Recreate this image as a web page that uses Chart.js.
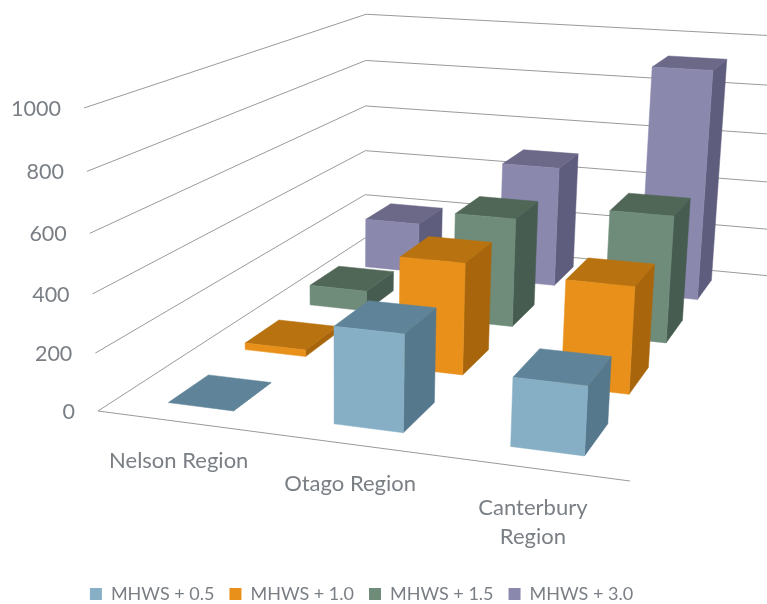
<!DOCTYPE html>
<html>
<head>
<meta charset="utf-8">
<title>Regions by MHWS level</title>
<script src="https://cdn.jsdelivr.net/npm/chart.js@4.4.0/dist/chart.umd.min.js"></script>
<style>
  html, body { margin: 0; padding: 0; background: #ffffff; }
  canvas { display: block; }
</style>
</head>
<body>
<canvas id="chart" width="767" height="604"></canvas>
<script>
const regions = ['Nelson Region', 'Otago Region', ['Canterbury', 'Region']];
const levels = ['MHWS + 0.5', 'MHWS + 1.0', 'MHWS + 1.5', 'MHWS + 3.0'];

const mhws05 = [0, 330, 229];
const mhws10 = [25, 404, 380];
const mhws15 = [80, 420, 482];
const mhws30 = [207, 490, 918];

const series = [mhws05, mhws10, mhws15, mhws30];

const frontColors = ['#86afc6', '#e8901a', '#6f8c7b', '#8b88ae'];
const topColors = ['#5f8499', '#b8720f', '#506757', '#6b6888'];
const sideColors = ['#56788d', '#a8650c', '#465c50', '#5f5d7d'];

const textColor = '#7a7f85';
const gridColor = '#9a9a9a';

// corners of the plot box on screen, the perspective is solved from these
const boxOrigin = [98, 411];
const boxRight = [630, 481];
const boxBack = [365, 238];
const boxBackRight = [760, 275];
const boxUp = [84, 108];
const upWeight = 0.945;

const depthPercentage = 0.5;

function solvePerspective() {
    const o = boxOrigin, r = boxRight, k = boxBack, q = boxBackRight, t = boxUp;
    const a1 = r[0] - q[0], b1 = k[0] - q[0], c1 = o[0] - q[0];
    const a2 = r[1] - q[1], b2 = k[1] - q[1], c2 = o[1] - q[1];
    const det = a1 * b2 - a2 * b1;
    const wr = (c1 * b2 - c2 * b1) / det;
    const wk = (a1 * c2 - a2 * c1) / det;
    const col = (p, w) => [w * p[0] - o[0], w * p[1] - o[1], w - 1];
    return { cx: col(r, wr), cy: col(t, upWeight), cz: col(k, wk) };
}

const persp = solvePerspective();

function project(u, v, d) {
    const { cx, cy, cz } = persp;
    const w = cx[2] * u + cy[2] * v + cz[2] * d + 1;
    return [
        (cx[0] * u + cy[0] * v + cz[0] * d + boxOrigin[0]) / w,
        (cx[1] * u + cy[1] * v + cz[1] * d + boxOrigin[1]) / w
    ];
}

function fillFace(ctx, color, pts) {
    ctx.fillStyle = color;
    ctx.strokeStyle = color;
    ctx.lineWidth = 0.5;
    ctx.beginPath();
    pts.forEach((p, i) => i ? ctx.lineTo(p[0], p[1]) : ctx.moveTo(p[0], p[1]));
    ctx.closePath();
    ctx.fill();
    ctx.stroke();
}

function strokeLine(ctx, pts) {
    ctx.beginPath();
    pts.forEach((p, i) => i ? ctx.lineTo(p[0], p[1]) : ctx.moveTo(p[0], p[1]));
    ctx.stroke();
}

const box3d = {
    id: 'box3d',
    // the 2d bars are laid out by the chart but painted as boxes below
    beforeDatasetDraw() {
        return false;
    },
    beforeDatasetsDraw(chart) {
        const { ctx, chartArea: area, scales } = chart;
        const normX = px => (px - area.left) / area.width;
        const normY = px => (area.bottom - px) / area.height;

        ctx.save();

        // walls
        ctx.strokeStyle = gridColor;
        ctx.lineWidth = 1;
        scales.y.ticks.forEach(tick => {
            const v = normY(scales.y.getPixelForValue(tick.value));
            strokeLine(ctx, [project(0, v, 0), project(0, v, 1), project(1.05, v, 1)]);
        });
        strokeLine(ctx, [project(0, 0, 0), project(1, 0, 0)]);

        // value labels up the front of the left wall
        ctx.fillStyle = textColor;
        ctx.font = '21.5px Lato';
        ctx.textAlign = 'right';
        ctx.textBaseline = 'middle';
        scales.y.ticks.forEach(tick => {
            const v = normY(scales.y.getPixelForValue(tick.value));
            const p = project(0, v, 0);
            ctx.fillText(String(tick.value), p[0] - 23, p[1] + 1);
        });

        // region labels under the front edge
        ctx.font = '22px Lato';
        ctx.textAlign = 'center';
        regions.forEach((label, i) => {
            const p = project(normX(scales.x.getPixelForValue(i)), 0, 0);
            [].concat(label).forEach((line, n) => {
                ctx.fillText(line, p[0] - 1, p[1] + 39.5 + n * 29);
            });
        });

        // back row first so the nearer boxes paint over it
        for (let s = series.length - 1; s >= 0; s--) {
            const meta = chart.getDatasetMeta(s);
            const mid = normX(scales.depth.getPixelForValue(s));
            const half = depthPercentage / levels.length / 2;
            const z0 = mid - half, z1 = mid + half;
            meta.data.forEach(bar => {
                const x0 = normX(bar.x - bar.width / 2);
                const x1 = normX(bar.x + bar.width / 2);
                const y0 = normY(bar.base);
                const y1 = normY(bar.y);
                fillFace(ctx, sideColors[s], [project(x1, y0, z0), project(x1, y0, z1), project(x1, y1, z1), project(x1, y1, z0)]);
                fillFace(ctx, topColors[s], [project(x0, y1, z0), project(x1, y1, z0), project(x1, y1, z1), project(x0, y1, z1)]);
                if (y1 > y0) {
                    fillFace(ctx, frontColors[s], [project(x0, y0, z0), project(x1, y0, z0), project(x1, y1, z0), project(x0, y1, z0)]);
                }
            });
        }

        ctx.restore();
    }
};

new Chart(document.getElementById('chart'), {
    type: 'bar',
    data: {
        labels: regions,
        datasets: levels.map((name, s) => ({
            label: name,
            data: series[s],
            backgroundColor: frontColors[s],
            xAxisID: 'x',
            yAxisID: 'y',
            grouped: false,
            barPercentage: 0.4,
            categoryPercentage: 1
        }))
    },
    options: {
        responsive: false,
        animation: false,
        layout: { padding: { right: 44, bottom: -9 } },
        plugins: {
            tooltip: { enabled: false },
            legend: {
                position: 'bottom',
                labels: {
                    boxWidth: 12,
                    boxHeight: 12,
                    padding: 15,
                    color: textColor,
                    font: { family: 'Lato', size: 18 }
                }
            }
        },
        scales: {
            x: { display: false },
            depth: { type: 'category', axis: 'x', labels: levels, offset: true, display: false },
            y: { display: false, min: 0, max: 1000, ticks: { stepSize: 200 } }
        }
    },
    plugins: [box3d]
});
</script>
</body>
</html>
